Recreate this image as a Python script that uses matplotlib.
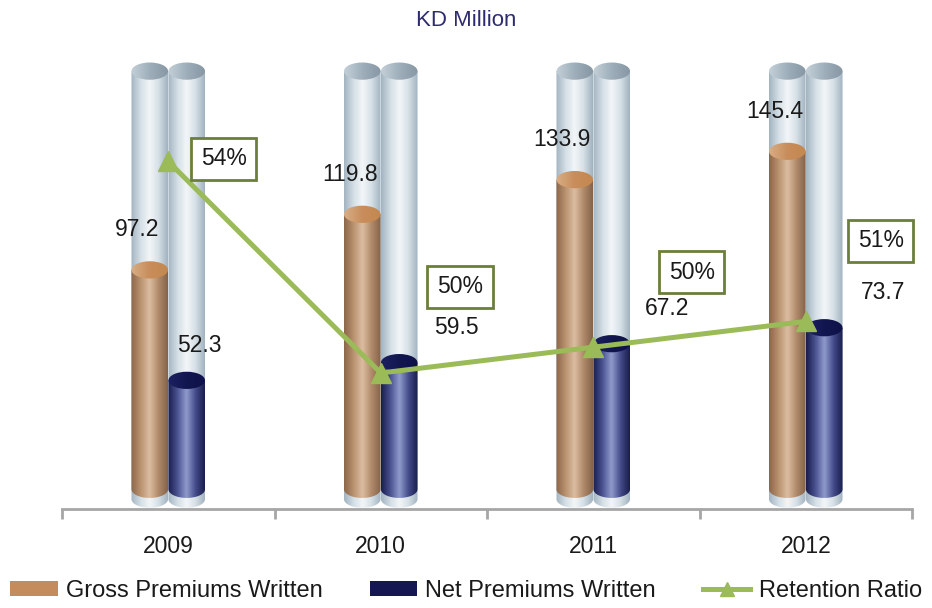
import numpy as np
import matplotlib
matplotlib.use("Agg")
import matplotlib.pyplot as plt
from matplotlib.colors import LinearSegmentedColormap
from matplotlib.patches import Ellipse, PathPatch, Patch
from matplotlib.path import Path
from matplotlib.lines import Line2D

plt.rcParams['font.family'] = ['Liberation Sans', 'DejaVu Sans']

years = ['2009', '2010', '2011', '2012']
gross = [97.2, 119.8, 133.9, 145.4]
net = [52.3, 59.5, 67.2, 73.7]
retention = [53.8, 49.7, 50.2, 50.7]   # %
bg_level = 178.0                        # background cylinder height (KD million)

# style
BAR_W = 0.172
OFF = 0.087
ELL_H = 7.0
BASE_BAR = 8.0
BASE_BG = 4.0
GREEN = '#9bbb59'
BOX_EDGE = '#6b7f3a'
FS = 16.5
TXT = '#1a1a1a'

cm_bg = LinearSegmentedColormap.from_list('bg', ['#a3b4c1', '#d3dee5', '#f3f6f8', '#d6e0e6', '#a2b3c0'])
cm_bg_top = LinearSegmentedColormap.from_list('bgt', ['#c4d0d8', '#9eafbb', '#8797a4'])
cm_gross = LinearSegmentedColormap.from_list('gr', ['#8c674a', '#b8916f', '#dcbda1', '#b08a6a', '#85634a'])
cm_gross_top = LinearSegmentedColormap.from_list('grt', ['#d8ae86', '#c88d5b', '#c4884f'])
cm_net = LinearSegmentedColormap.from_list('nt', ['#1a1e4e', '#4a5290', '#909bcc', '#444c8a', '#1a1e4e'])
cm_net_top = LinearSegmentedColormap.from_list('ntt', ['#1c2060', '#121650', '#0f1248'])

fig = plt.figure(figsize=(9.32, 6.08), dpi=100)
ax = fig.add_axes([62/932, 99/608, 850/932, 469/608])
ymax = 469/2.46
x = np.arange(len(years))


def grad_img(cmap, n=64):
    g = np.linspace(0, 1, n)[None, :]
    return cmap(g)


def cylinder(xc, base, top, cmap, cmap_top, z):
    bar = ax.bar(xc, top - base, BAR_W, bottom=base, color='none',
                 edgecolor='none', zorder=z)[0]
    x0, w = bar.get_x(), bar.get_width()
    y0, h = bar.get_y(), bar.get_height()
    t = np.linspace(np.pi, 2*np.pi, 40)
    arc = np.column_stack([x0 + w/2 + w/2*np.cos(t), y0 + ELL_H/2*np.sin(t)])
    verts = np.vstack([[[x0, y0 + h]], arc, [[x0 + w, y0 + h]], [[x0, y0 + h]]])
    codes = [Path.MOVETO] + [Path.LINETO]*(len(verts) - 2) + [Path.CLOSEPOLY]
    body = PathPatch(Path(verts, codes), facecolor='none', edgecolor='none')
    ax.add_patch(body)
    im = ax.imshow(grad_img(cmap), extent=[x0, x0 + w, y0 - ELL_H, y0 + h],
                   aspect='auto', zorder=z, interpolation='bilinear', origin='lower')
    im.set_clip_path(body)
    ell = Ellipse((x0 + w/2, y0 + h), w, ELL_H, facecolor='none', edgecolor='none')
    ax.add_patch(ell)
    im2 = ax.imshow(grad_img(cmap_top), extent=[x0, x0 + w, y0 + h - ELL_H, y0 + h + ELL_H],
                    aspect='auto', zorder=z + 0.1, interpolation='bilinear', origin='lower')
    im2.set_clip_path(ell)


for i in range(len(years)):
    cylinder(x[i] - OFF, BASE_BG, bg_level, cm_bg, cm_bg_top, 1)
    cylinder(x[i] + OFF, BASE_BG, bg_level, cm_bg, cm_bg_top, 1)
    cylinder(x[i] - OFF, BASE_BAR, gross[i], cm_gross, cm_gross_top, 2)
    cylinder(x[i] + OFF, BASE_BAR, net[i], cm_net, cm_net_top, 2)

# value labels
for i in range(len(years)):
    ax.annotate(f'{gross[i]:.1f}', (x[i] - OFF, gross[i]), xytext=(-9, 29),
                textcoords='offset points', ha='center', va='center',
                fontsize=FS, color=TXT, zorder=5)
net_dx = [9, 41, 40, 42]
for i in range(len(years)):
    ax.annotate(f'{net[i]:.1f}', (x[i] + OFF, net[i]), xytext=(net_dx[i], 25),
                textcoords='offset points', ha='center', va='center',
                fontsize=FS, color=TXT, zorder=5)

# retention ratio on secondary axis
ax2 = ax.twinx()
px_per_pct = 51.6
lo = 49.7 - (509 - 373) / px_per_pct
ax2.set_ylim(lo, lo + 469 / px_per_pct)
ax2.plot(x, retention, color=GREEN, lw=3.6, marker='^', markersize=15,
         markeredgecolor=GREEN, zorder=3)
box_off = [(40, 2), (57, 62), (71, 54), (54, 58)]
for i in range(len(years)):
    ax2.annotate(f'{retention[i]:.0f}%', (x[i], retention[i]), xytext=box_off[i],
                 textcoords='offset points', ha='center', va='center',
                 fontsize=FS, color=TXT, zorder=6,
                 bbox=dict(boxstyle='square,pad=0.42', facecolor='white',
                           edgecolor=BOX_EDGE, linewidth=2.0))
ax2.axis('off')

ax.set_xlim(-0.5, len(years) - 0.5)
ax.set_ylim(0, ymax)
ax.set_xticks(x)
ax.set_xticklabels(years, fontsize=FS, color=TXT)
ax.set_xticks(np.arange(-0.5, len(years)), minor=True)
ax.tick_params(axis='x', which='major', length=0, pad=19)
ax.tick_params(axis='x', which='minor', length=7, width=2, color='#a6a6a6', direction='out')
ax.set_yticks([])
for s in ['left', 'right', 'top']:
    ax.spines[s].set_visible(False)
ax.spines['bottom'].set_color('#a6a6a6')
ax.spines['bottom'].set_linewidth(2)
ax.set_zorder(1)
ax2.set_zorder(2)
ax.patch.set_visible(False)

fig.text(0.5, 1 - 20/608, 'KD Million', ha='center', va='center', fontsize=16, color='#2e2c6e')

handles = [Patch(facecolor='#c48b5c', edgecolor='none'),
           Patch(facecolor='#141752', edgecolor='none'),
           Line2D([0], [0], color=GREEN, lw=3.6, marker='^', markersize=10)]
leg = fig.legend(handles, ['Gross Premiums Written', 'Net Premiums Written', 'Retention Ratio'],
                 loc='lower center', bbox_to_anchor=(0.5, -0.025), ncol=3, frameon=False,
                 fontsize=17, handlelength=2.0, handletextpad=0.35, columnspacing=2.0,
                 handleheight=0.6)
for t in leg.get_texts():
    t.set_color(TXT)

fig.savefig('out.png', dpi=100)
